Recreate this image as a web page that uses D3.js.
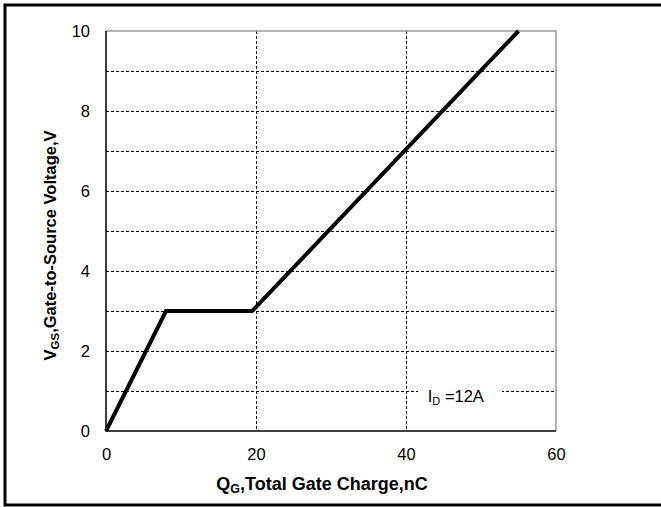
<!doctype html>
<meta charset="utf8">
<style>
  body { margin: 0; background: #fff; }
  svg { display: block; font-family: "Liberation Sans", Arial, sans-serif; }
</style>
<body>
<div id="chart"></div>
<script src="https://d3js.org/d3.v7.min.js"></script>
<script>
// gate charge curve
const qg = [0, 8, 19.5, 55];
const vgs = [0, 3, 3, 10];
const xTicks = [0, 20, 40, 60];
const yTicks = [0, 2, 4, 6, 8, 10];
const yGrid = [1, 2, 3, 4, 5, 6, 7, 8, 9];
const xGrid = [20, 40];
const note = "=12A";

(function() {
  const W = 661, H = 507;
  const plot = {left: 106, right: 556, top: 31, bottom: 431};

  const svg = d3.select("#chart").append("svg")
    .attr("width", W)
    .attr("height", H);

  // outer frame: left, top, bottom only
  svg.append("path")
    .attr("d", `M${W},5H5V505H${W}`)
    .attr("fill", "none")
    .attr("stroke", "#000")
    .attr("stroke-width", 3);

  const x = d3.scaleLinear().domain([0, 60]).range([plot.left, plot.right]);
  const y = d3.scaleLinear().domain([0, 10]).range([plot.bottom, plot.top]);

  // grid
  svg.append("g").selectAll("line").data(yGrid).join("line")
    .attr("x1", plot.left).attr("x2", plot.right)
    .attr("y1", d => y(d) + 0.5).attr("y2", d => y(d) + 0.5)
    .attr("stroke", "#000").attr("stroke-width", 1)
    .attr("stroke-dasharray", "3,2");
  svg.append("g").selectAll("line").data(xGrid).join("line")
    .attr("x1", d => x(d) + 0.5).attr("x2", d => x(d) + 0.5)
    .attr("y1", plot.top).attr("y2", plot.bottom)
    .attr("stroke", "#000").attr("stroke-width", 1)
    .attr("stroke-dasharray", "3,2");

  // plot box: grey top/right, black left/bottom
  svg.append("path")
    .attr("d", `M${plot.left},${plot.top}H${plot.right}V${plot.bottom}`)
    .attr("fill", "none").attr("stroke", "#999").attr("stroke-width", 1.5);
  svg.append("path")
    .attr("d", `M${plot.left},${plot.top}V${plot.bottom}H${plot.right}`)
    .attr("fill", "none").attr("stroke", "#000").attr("stroke-width", 1.5);

  // tick labels
  const xAxis = d3.axisBottom(x).tickValues(xTicks).tickSize(0).tickPadding(17);
  const gx = svg.append("g").attr("transform", `translate(0,${plot.bottom})`).call(xAxis);
  const yAxis = d3.axisLeft(y).tickValues(yTicks).tickSize(0).tickPadding(16);
  const gy = svg.append("g").attr("transform", `translate(${plot.left},0)`).call(yAxis);
  for (const g of [gx, gy]) {
    g.select(".domain").remove();
    g.selectAll("text")
      .attr("font-family", "'Liberation Sans', Arial, sans-serif")
      .attr("font-size", 16.5).attr("fill", "#000");
  }

  // I_D note with white box
  const ny = y(1);
  svg.append("rect")
    .attr("x", x(41.6)).attr("y", ny - 8)
    .attr("width", x(52.8) - x(41.6)).attr("height", 16)
    .attr("fill", "#fff");
  const t = svg.append("text")
    .attr("x", x(42.9)).attr("y", ny + 10.5)
    .attr("font-size", 16.5).attr("fill", "#000");
  t.append("tspan").text("I");
  t.append("tspan").attr("font-size", 11).attr("dy", 3).text("D");
  t.append("tspan").attr("dy", -3).text(" " + note);

  // curve
  const pts = qg.map((q, i) => [q, vgs[i]]);
  svg.append("path")
    .datum(pts)
    .attr("d", d3.line().x(d => x(d[0])).y(d => y(d[1])))
    .attr("fill", "none")
    .attr("stroke", "#000")
    .attr("stroke-width", 4)
    .attr("stroke-linejoin", "miter");

  // axis titles
  const xt = svg.append("text")
    .attr("x", 322).attr("y", 490)
    .attr("text-anchor", "middle")
    .attr("font-size", 18).attr("font-weight", "bold");
  xt.append("tspan").text("Q");
  xt.append("tspan").attr("font-size", 12.5).attr("dy", 3).text("G");
  xt.append("tspan").attr("dy", -3).text(",Total Gate Charge,nC");

  const yt = svg.append("text")
    .attr("transform", "translate(56,245.5) rotate(-90)")
    .attr("text-anchor", "middle")
    .attr("font-size", 16.5).attr("font-weight", "bold");
  yt.append("tspan").text("V");
  yt.append("tspan").attr("font-size", 11.5).attr("dy", 3).text("GS");
  yt.append("tspan").attr("dy", -3).text(",Gate-to-Source Voltage,V");
})();
</script>
</body>
